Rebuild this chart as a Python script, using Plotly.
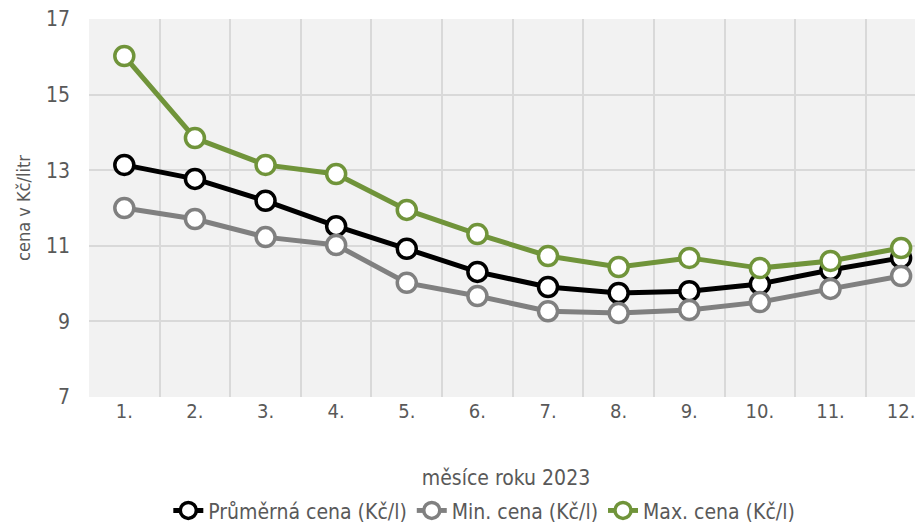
import plotly.graph_objects as go

mesice = ["1.", "2.", "3.", "4.", "5.", "6.", "7.", "8.", "9.", "10.", "11.", "12."]
prumerna = [13.14, 12.77, 12.19, 11.52, 10.92, 10.31, 9.91, 9.75, 9.80, 9.99, 10.36, 10.68]
minimum = [12.00, 11.71, 11.23, 11.02, 10.02, 9.67, 9.27, 9.22, 9.30, 9.51, 9.86, 10.20]
maximum = [16.02, 13.85, 13.14, 12.90, 11.95, 11.31, 10.73, 10.44, 10.68, 10.41, 10.60, 10.94]
y_ticks = [7, 9, 11, 13, 15, 17]

FONT = "DejaVu Sans Condensed, Roboto, sans-serif"
TXT = "#595959"

x = list(range(len(mesice)))

def serie(vals, name, color):
    return go.Scatter(
        x=x, y=vals, name=name, mode="lines+markers",
        line=dict(color=color, width=5),
        marker=dict(size=19, color="white", line=dict(color=color, width=3.5)),
        cliponaxis=False,
    )

fig = go.Figure()
fig.add_trace(serie(prumerna, "Průměrná cena (Kč/l)", "#000000"))
fig.add_trace(serie(minimum, "Min. cena (Kč/l)", "#808080"))
fig.add_trace(serie(maximum, "Max. cena (Kč/l)", "#70943a"))

# stranka ma 8px okraj, proto je figura o 8px mensi
fig.update_layout(
    width=915, height=521,
    margin=dict(l=81, r=0, t=11, b=132, autoexpand=False),
    paper_bgcolor="white", plot_bgcolor="#f2f2f2",
    font=dict(family=FONT, color=TXT, size=18),
    showlegend=True,
    legend=dict(orientation="h", x=0.474, xanchor="center", yref="container", y=0.035, yanchor="middle",
                font=dict(size=21, color=TXT), itemwidth=30, traceorder="normal"),
    xaxis=dict(
        range=[-0.5, 11.31], tickmode="array", tickvals=x, ticktext=mesice,
        showgrid=False, zeroline=False, showline=False, ticks="", automargin=False,
        tickfont=dict(size=20, color=TXT),
        minor=dict(tickmode="array", tickvals=[i + 0.5 for i in range(-1, 12)],
                   showgrid=True, gridcolor="#d9d9d9", gridwidth=1.5, ticks=""),
        title=dict(text="měsíce roku 2023", font=dict(size=21, color=TXT), standoff=64),
    ),
    yaxis=dict(
        range=[7, 17], tickmode="array", tickvals=y_ticks, automargin=False,
        showgrid=True, gridcolor="#d9d9d9", gridwidth=1.5, zeroline=False,
        showline=False, ticks="", tickfont=dict(size=21, color=TXT), ticklabelstandoff=18,
        ticklabeloverflow="allow",
        title=dict(text="cena v Kč/litr", font=dict(size=18, color=TXT), standoff=10),
    ),
)

fig.write_html("out.html")
